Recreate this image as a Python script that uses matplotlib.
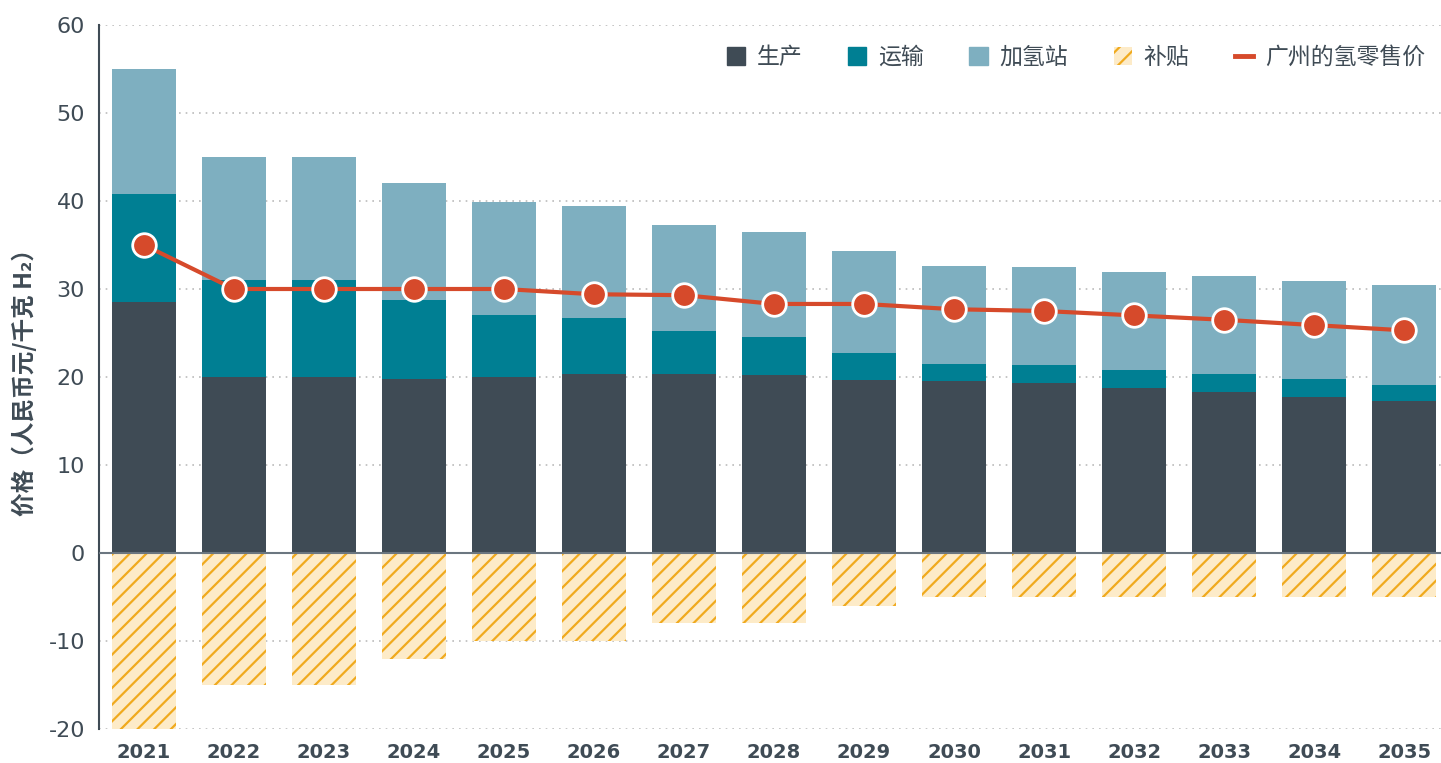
import numpy as np
import matplotlib
matplotlib.use("Agg")
import matplotlib.pyplot as plt
import matplotlib.patches as mpatches
from matplotlib.lines import Line2D

plt.rcParams['font.family'] = ['Noto Sans CJK SC', 'DejaVu Sans']
plt.rcParams['hatch.linewidth'] = 1.6
plt.rcParams['axes.unicode_minus'] = False

years = ["2021", "2022", "2023", "2024", "2025", "2026", "2027", "2028",
         "2029", "2030", "2031", "2032", "2033", "2034", "2035"]
produccion = [28.5, 20.0, 20.0, 19.8, 20.0, 20.3, 20.3, 20.2, 19.7, 19.5, 19.3, 18.8, 18.3, 17.7, 17.3]
transporte = [12.3, 11.0, 11.0, 9.0, 7.0, 6.4, 4.9, 4.3, 3.0, 2.0, 2.1, 2.0, 2.0, 2.1, 1.8]
estacion = [14.2, 14.0, 14.0, 13.2, 12.9, 12.7, 12.1, 12.0, 11.6, 11.1, 11.1, 11.1, 11.2, 11.1, 11.4]
subsidio = [-20, -15, -15, -12, -10, -10, -8, -8, -6, -5, -5, -5, -5, -5, -5]
precio = [35.0, 30.0, 30.0, 30.0, 30.0, 29.4, 29.3, 28.3, 28.3, 27.7, 27.5, 27.0, 26.5, 25.9, 25.3]

c_prod = "#3f4b55"
c_trans = "#007f93"
c_est = "#7eafc0"
c_precio = "#d64a2b"
c_hatch = "#f0aa1e"
c_sub = "#fdebc8"
c_txt = "#3f4b55"

x = np.arange(len(years))
w = 0.715

fig = plt.figure(figsize=(14.41, 7.63), dpi=100)
ax = fig.add_axes([99 / 1441, 1 - 729 / 763, (1441 - 99) / 1441, (729 - 25) / 763])

base2 = np.array(produccion) + np.array(transporte)
ax.bar(x, produccion, w, color=c_prod, zorder=2)
ax.bar(x, transporte, w, bottom=produccion, color=c_trans, zorder=2)
ax.bar(x, estacion, w, bottom=base2, color=c_est, zorder=2)
ax.bar(x, subsidio, w, color=c_sub, edgecolor=c_hatch, hatch="//", linewidth=0, zorder=2)

ax.plot(x, precio, color=c_precio, linewidth=3, marker="o", markersize=17,
        markerfacecolor=c_precio, markeredgecolor="white", markeredgewidth=2, zorder=4)

ax.axhline(0, color="#6b7680", linewidth=1.5, zorder=3)

ax.set_xlim(-0.5, 14.41)
ax.set_ylim(-20, 60)
ax.set_yticks(range(-20, 61, 10))
ax.yaxis.grid(True, linestyle=(0, (1, 3)), color="#bbbbbb", linewidth=1.2, zorder=0)
ax.set_axisbelow(True)

ax.set_xticks(x)
ax.set_xticklabels(years, fontsize=14, fontweight="bold", color=c_txt, family="DejaVu Sans")
ax.tick_params(axis="both", length=0)
ax.tick_params(axis="x", pad=10)
ax.tick_params(axis="y", pad=10)
for lab in ax.get_yticklabels():
    lab.set_fontsize(16)
    lab.set_color(c_txt)
    lab.set_family("DejaVu Sans")

for s in ["top", "right", "bottom"]:
    ax.spines[s].set_visible(False)
ax.spines["left"].set_color(c_txt)
ax.spines["left"].set_linewidth(1.5)

ax.set_ylabel("价格（人民币元/千克 H₂）", fontsize=17, fontweight="bold", color=c_txt, labelpad=8)

handles = [
    mpatches.Patch(color=c_prod, label="生产"),
    mpatches.Patch(color=c_trans, label="运输"),
    mpatches.Patch(color=c_est, label="加氢站"),
    mpatches.Patch(facecolor=c_sub, edgecolor=c_hatch, hatch="//", linewidth=0, label="补贴"),
    Line2D([0], [0], color=c_precio, linewidth=3.5, label="广州的氢零售价"),
]
leg = ax.legend(handles=handles, loc="upper right", bbox_to_anchor=(1.0, 0.993), ncol=5,
                frameon=False, fontsize=16.5, handlelength=0.8, handleheight=0.8,
                columnspacing=2.0, handletextpad=0.5, borderaxespad=0.3)
for t in leg.get_texts():
    t.set_color(c_txt)

fig.savefig("out.png", dpi=100)
